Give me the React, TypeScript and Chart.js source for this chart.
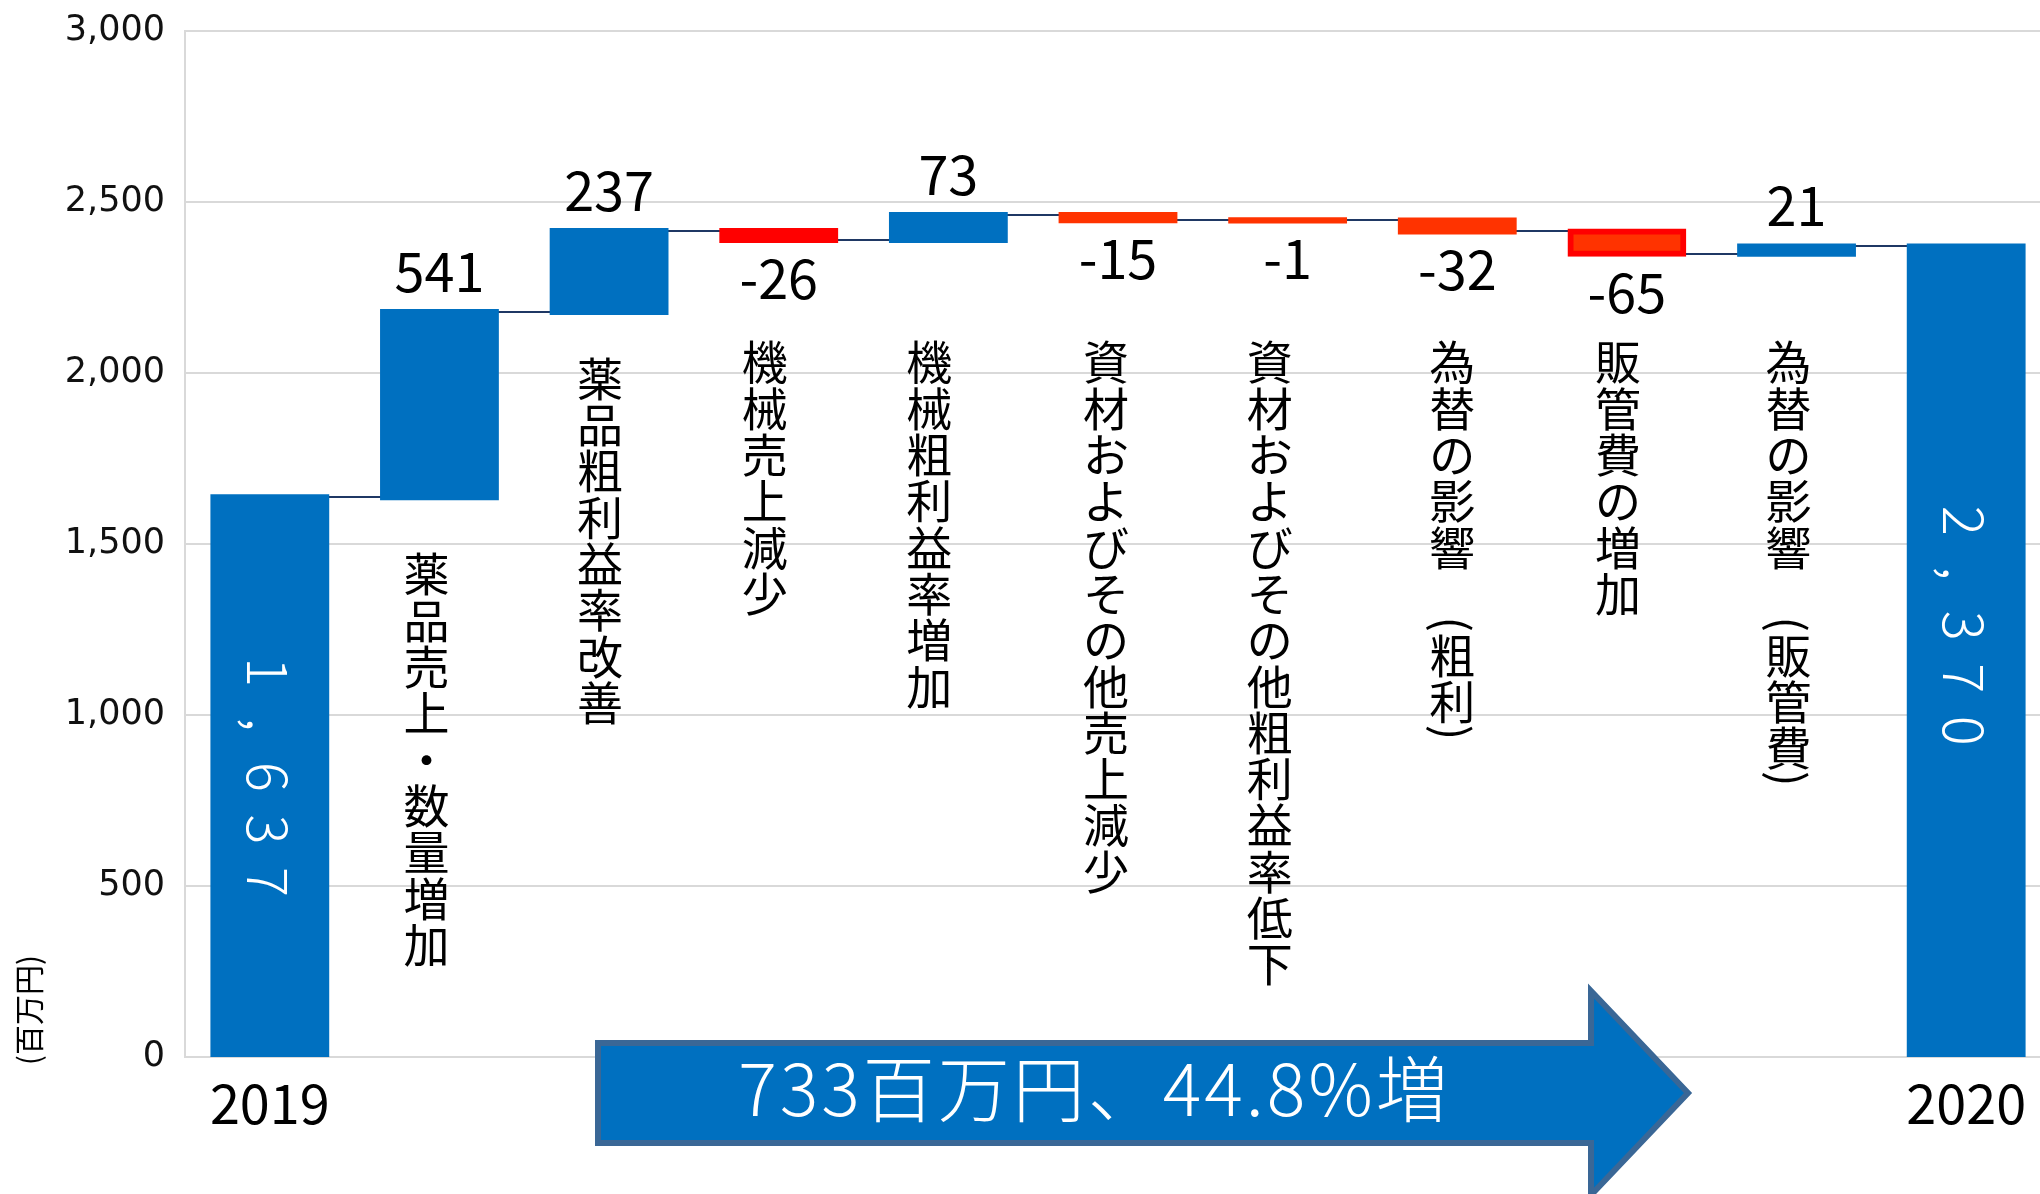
import { useEffect, useRef } from 'react';
import { Chart, registerables } from 'chart.js';

Chart.register(...registerables);

// ---------------- data ----------------
const categories = [
  '2019',
  '薬品売上・数量増加',
  '薬品粗利益率改善',
  '機械売上減少',
  '機械粗利益率増加',
  '資材およびその他売上減少',
  '資材およびその他粗利益率低下',
  '為替の影響　(粗利)',
  '販管費の増加',
  '為替の影響　(販管費)',
  '2020',
];
const startValue = 1637;
const changes = [541, 237, -26, 73, -15, -1, -32, -65, 21];
const endValue = 2370;
const yMax = 3000;
const yStep = 500;
const unitLabel = '(百万円)';
const summaryText = '733百万円、44.8%増';

// ---------------- styling / layout ----------------
const CJK = '"Noto Sans CJK JP", "Noto Sans CJK SC", sans-serif';
const BLUE = '#0070C0';
const ORANGE_RED = '#FF3300';
const RED = '#FF0000';
const barFill = [BLUE, BLUE, BLUE, RED, BLUE, ORANGE_RED, ORANGE_RED, ORANGE_RED, ORANGE_RED, BLUE, BLUE];
const barEdge = [BLUE, BLUE, BLUE, RED, BLUE, ORANGE_RED, ORANGE_RED, ORANGE_RED, RED, BLUE, BLUE];
const barEdgeWidth = [0, 0, 0, 0, 0, 0, 0, 0, 6, 0, 0];
// axis value at which each vertical caption starts, and its sideways nudge (layout only)
const captionStart = [null, 1480, 2052, 2100, 2100, 2100, 2100, 2100, 2100, 2100, null];
const captionNudge = [0, -13, -9, -14, -19, -12, -18, -5, -9, -8, 0];
const totalLabelShift = [0, -26];

const CANVAS_W = 2060;
const CANVAS_H = 1194;

// floating bars built from the values above
const floats: [number, number][] = [];
{
  let run = startValue;
  floats.push([0, startValue]);
  for (const c of changes) {
    floats.push([run, run + c]);
    run += c;
  }
  floats.push([0, endValue]);
}

function drawVertical(ctx: CanvasRenderingContext2D, text: string, cx: number, top: number, pitch: number) {
  let y = top;
  for (const ch of text) {
    if (ch === '(' || ch === ')') {
      const w = ctx.measureText(ch).width;
      ctx.save();
      ctx.translate(cx, y + w / 2);
      ctx.rotate(Math.PI / 2);
      ctx.fillText(ch, 0, 0);
      ctx.restore();
      y += w;
    } else {
      if (ch !== '　' && ch !== ' ') ctx.fillText(ch, cx, y + pitch / 2);
      y += pitch;
    }
  }
}

const decor = {
  id: 'decor',
  beforeDatasetsDraw(chart: any) {
    const ctx = chart.ctx as CanvasRenderingContext2D;
    const meta = chart.getDatasetMeta(0);
    const y = chart.scales.y;
    ctx.save();
    ctx.strokeStyle = '#1F3864';
    ctx.lineWidth = 2;
    for (let i = 0; i < meta.data.length - 1; i++) {
      const py = Math.round(y.getPixelForValue(floats[i][1]));
      ctx.beginPath();
      ctx.moveTo(meta.data[i].x, py);
      ctx.lineTo(meta.data[i + 1].x, py);
      ctx.stroke();
    }
    ctx.restore();
  },
  afterDatasetsDraw(chart: any) {
    const ctx = chart.ctx as CanvasRenderingContext2D;
    const meta = chart.getDatasetMeta(0);
    const y = chart.scales.y;

    // value labels for changes
    ctx.save();
    ctx.fillStyle = '#000';
    ctx.textAlign = 'center';
    ctx.textBaseline = 'middle';
    ctx.font = `54px ${CJK}`;
    for (let i = 1; i <= changes.length; i++) {
      const el = meta.data[i];
      const c = changes[i - 1];
      const endPx = y.getPixelForValue(floats[i][1]);
      const py = c >= 0 ? endPx - 41 : endPx + 38.5;
      ctx.fillText(String(c), el.x, py);
    }
    ctx.restore();

    // totals inside bars, rotated
    const totals: [number, number][] = [
      [0, startValue],
      [categories.length - 1, endValue],
    ];
    totals.forEach(([idx, v], k) => {
      const el = meta.data[idx];
      const cy = (y.getPixelForValue(0) + y.getPixelForValue(v)) / 2 + totalLabelShift[k];
      const chars = [...v.toLocaleString('en-US')];
      const n = chars.length;
      const pitch = 52.5;
      ctx.save();
      ctx.translate(el.x - 2, cy);
      ctx.rotate(Math.PI / 2);
      ctx.fillStyle = '#fff';
      ctx.textAlign = 'center';
      ctx.textBaseline = 'middle';
      ctx.font = `300 56px ${CJK}`;
      chars.forEach((ch, j) => ctx.fillText(ch, (j - (n - 1) / 2) * pitch, 0));
      ctx.restore();
    });

    // vertical captions
    ctx.save();
    ctx.fillStyle = '#000';
    ctx.textAlign = 'center';
    ctx.textBaseline = 'middle';
    ctx.font = `46px ${CJK}`;
    for (let i = 1; i < categories.length - 1; i++) {
      const el = meta.data[i];
      const start = captionStart[i];
      if (start == null) continue;
      drawVertical(ctx, categories[i], el.x + captionNudge[i], y.getPixelForValue(start), 46.3);
    }
    ctx.restore();
  },
  afterDraw(chart: any) {
    const ctx = chart.ctx as CanvasRenderingContext2D;
    const area = chart.chartArea;

    // unit title
    ctx.save();
    ctx.translate(29, area.bottom - 47);
    ctx.rotate(-Math.PI / 2);
    ctx.fillStyle = '#000';
    ctx.textAlign = 'center';
    ctx.textBaseline = 'middle';
    ctx.font = `30px ${CJK}`;
    ctx.fillText(unitLabel, 0, 0);
    ctx.restore();

    // summary arrow
    const left = 598, top = 1043, bottom = 1143, neck = 1591;
    const headTop = 991, headBottom = 1195, tipX = 1688, tipY = 1093;
    ctx.save();
    ctx.beginPath();
    ctx.moveTo(left, top);
    ctx.lineTo(neck, top);
    ctx.lineTo(neck, headTop);
    ctx.lineTo(tipX, tipY);
    ctx.lineTo(neck, headBottom);
    ctx.lineTo(neck, bottom);
    ctx.lineTo(left, bottom);
    ctx.closePath();
    ctx.fillStyle = BLUE;
    ctx.fill();
    ctx.lineWidth = 6;
    ctx.strokeStyle = '#3A6796';
    ctx.lineJoin = 'miter';
    ctx.stroke();
    ctx.fillStyle = '#fff';
    ctx.textAlign = 'center';
    ctx.textBaseline = 'middle';
    ctx.font = `300 72px ${CJK}`;
    (ctx as any).letterSpacing = '3px';
    ctx.fillText(summaryText, 1094.5, 1089);
    ctx.restore();
  },
};

export default function App() {
  const ref = useRef<HTMLCanvasElement | null>(null);

  useEffect(() => {
    const canvas = ref.current;
    if (!canvas) return;
    const chart = new Chart(canvas, {
      type: 'bar',
      data: {
        labels: categories,
        datasets: [
          {
            data: floats as any,
            backgroundColor: barFill,
            borderColor: barEdge,
            borderWidth: barEdgeWidth,
            borderSkipped: false,
            inflateAmount: 3,
            barPercentage: 0.665,
            categoryPercentage: 1,
          } as any,
        ],
      },
      options: {
        responsive: false,
        animation: false,
        locale: 'en-US',
        layout: { padding: { left: 0, right: CANVAS_W - 2051, top: 31, bottom: 0 } },
        plugins: { legend: { display: false }, tooltip: { enabled: false } },
        scales: {
          x: {
            grid: { display: false },
            border: { display: false },
            ticks: {
              autoSkip: false,
              maxRotation: 0,
              minRotation: 0,
              padding: 6,
              color: '#000',
              font: { family: CJK, size: 54 },
              callback: (_v: any, i: number) =>
                i === 0 || i === categories.length - 1 ? categories[i] : '',
            },
            afterFit: (s: any) => {
              s.height = 137;
            },
          },
          y: {
            min: 0,
            max: yMax,
            ticks: {
              stepSize: yStep,
              padding: 20,
              color: '#111',
              font: { family: '"DejaVu Sans", sans-serif', size: 35, lineHeight: 0.5 },
            },
            grid: { color: '#D9D9D9', lineWidth: 2, drawTicks: false },
            border: { display: true, color: '#D9D9D9', width: 2 },
            afterFit: (s: any) => {
              s.width = 185;
            },
          },
        },
      } as any,
      plugins: [decor],
    });
    return () => chart.destroy();
  }, []);

  return (
    <div
      style={{
        position: 'fixed',
        left: 0,
        top: 0,
        width: 2040,
        height: 1194,
        overflow: 'hidden',
        background: '#fff',
      }}
    >
      <canvas
        ref={ref}
        width={CANVAS_W}
        height={CANVAS_H}
        style={{ display: 'block', width: CANVAS_W, height: CANVAS_H }}
      />
    </div>
  );
}
